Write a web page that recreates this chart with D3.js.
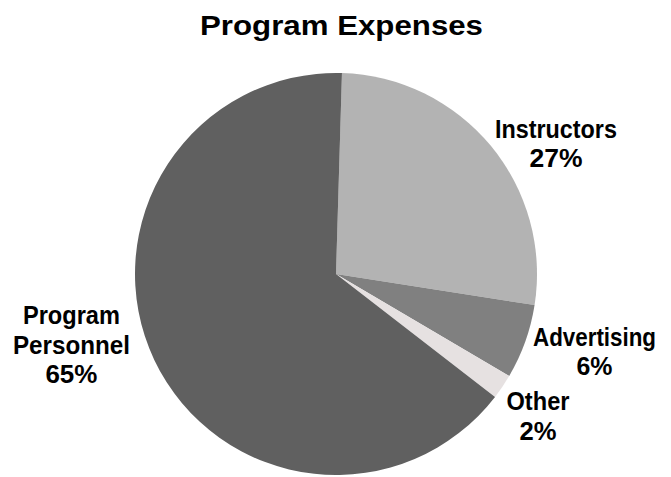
<!DOCTYPE html>
<html>
<head>
<meta charset="utf-8">
<script src="https://cdn.jsdelivr.net/npm/d3@7"></script>
<style>
  html, body { margin: 0; padding: 0; background: #fff; }
  svg { display: block; }
  text { font-family: "Liberation Sans", Arial, sans-serif; font-weight: bold; fill: #000; }
</style>
</head>
<body>
<svg id="chart" width="671" height="477"></svg>
<script>
// ---- data ----
const categories = ["Instructors", "Advertising", "Other", "Program Personnel"];
const values = [27, 6, 2, 65];
const colors = ["#b3b3b3", "#808080", "#e6e1e1", "#606060"];
const labelLines = [["Instructors", "27%"], ["Advertising", "6%"], ["Other", "2%"], ["Program", "Personnel", "65%"]];
const title = "Program Expenses";

// ---- layout ----
const W = 671, H = 477;
const cx = 336, cy = 274, R = 201;
const startOffset = 1.7 * Math.PI / 180;
// label placement: polar (degrees from 12 o'clock, distance from centre) and line widths
const labelPolar = [[59.3, 255.8], [106.7, 269.9], [125.1, 246.9], [-105.0, 273.9]];
const labelWidths = [[122, 53], [123, 36], [63, 37], [97, 117, 52]];

const svg = d3.select("#chart");

svg.append("text")
  .attr("x", 341.5).attr("y", 35)
  .attr("text-anchor", "middle")
  .attr("font-size", 28)
  .attr("textLength", 283)
  .attr("lengthAdjust", "spacingAndGlyphs")
  .text(title);

const pie = d3.pie().sort(null).value(d => d)
  .startAngle(startOffset).endAngle(startOffset + 2 * Math.PI);
const arcs = pie(values);
const arc = d3.arc().innerRadius(0).outerRadius(R);

const g = svg.append("g").attr("transform", `translate(${cx},${cy})`);
g.selectAll("path").data(arcs).join("path")
  .attr("d", arc)
  .attr("fill", (d, i) => colors[i]);

const lineH = 29.5;
const fs = 25;
labelLines.forEach((lines, i) => {
  const [deg, dist] = labelPolar[i];
  const a = deg * Math.PI / 180;
  const lx = cx + dist * Math.sin(a);
  const ly = cy - dist * Math.cos(a);
  const n = lines.length;
  const t = svg.append("text").attr("text-anchor", "middle").attr("font-size", fs);
  lines.forEach((s, k) => {
    t.append("tspan")
      .attr("x", lx)
      .attr("y", ly - (n - 1) * lineH / 2 + k * lineH + fs * 0.36)
      .attr("textLength", labelWidths[i][k])
      .attr("lengthAdjust", "spacingAndGlyphs")
      .text(s);
  });
});
</script>
</body>
</html>
